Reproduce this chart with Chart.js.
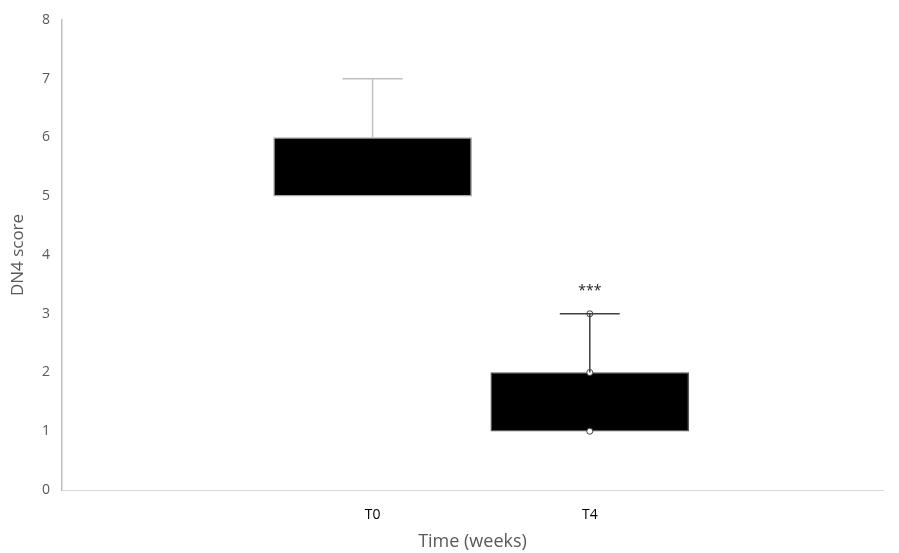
<!DOCTYPE html>
<html>
<head>
<meta charset="utf-8">
<script src="https://cdn.jsdelivr.net/npm/chart.js@4"></script>
<style>
  html, body { margin: 0; padding: 0; background: #fff; }
  #wrap { width: 899px; height: 553px; }
</style>
</head>
<body>
<div id="wrap"><canvas id="dn4Chart" width="899" height="553"></canvas></div>
<script>
// box plot values
const categories = ['T0', 'T4'];
const q1Values = [5, 1];
const q3Values = [6, 2];
const minValues = [5, 1];
const maxValues = [7, 3];
const t4Points = [1, 2, 3];
const yTicks = [0, 1, 2, 3, 4, 5, 6, 7, 8];
const signifLabel = '***';

const xPos = categories.map((c, i) => i + 1);
const whiskerColors = ['#bfbfbf', '#404040'];
const boxBorders = ['#a6a6a6', '#595959'];

// whiskers + caps + significance stars
const whiskerPlugin = {
    id: 'whiskers',
    afterDatasetsDraw(chart) {
        const ctx = chart.ctx;
        const xs = chart.scales.x;
        const ys = chart.scales.y;
        ctx.save();
        for (let i = 0; i < categories.length; i++) {
            const px = xs.getPixelForValue(xPos[i]);
            ctx.strokeStyle = whiskerColors[i];
            ctx.lineWidth = 1.5;
            if (maxValues[i] > q3Values[i]) {
                const top = ys.getPixelForValue(maxValues[i]);
                ctx.beginPath();
                ctx.moveTo(px, ys.getPixelForValue(q3Values[i]));
                ctx.lineTo(px, top);
                ctx.moveTo(px - 30, top);
                ctx.lineTo(px + 30, top);
                ctx.stroke();
            }
            if (minValues[i] < q1Values[i]) {
                const bot = ys.getPixelForValue(minValues[i]);
                ctx.beginPath();
                ctx.moveTo(px, ys.getPixelForValue(q1Values[i]));
                ctx.lineTo(px, bot);
                ctx.moveTo(px - 30, bot);
                ctx.lineTo(px + 30, bot);
                ctx.stroke();
            }
        }
        // stars above T4
        const sx = xs.getPixelForValue(xPos[1]);
        const sy = ys.getPixelForValue(maxValues[1]) - 23;
        ctx.fillStyle = '#222';
        ctx.font = '14px "Open Sans"';
        ctx.textAlign = 'center';
        ctx.textBaseline = 'middle';
        ctx.fillText(signifLabel, sx, sy);
        ctx.restore();
    }
};

const ctx = document.getElementById('dn4Chart').getContext('2d');

new Chart(ctx, {
    type: 'bar',
    data: {
        datasets: [{
            type: 'bar',
            data: categories.map((c, i) => ({ x: xPos[i], y: [q1Values[i], q3Values[i]] })),
            backgroundColor: '#000000',
            borderColor: boxBorders,
            borderWidth: 1.5,
            borderSkipped: false,
            barThickness: 198,
            order: 2
        }, {
            type: 'scatter',
            data: t4Points.map(v => ({ x: xPos[1], y: v })),
            backgroundColor: '#ffffff',
            borderColor: '#404040',
            borderWidth: 1,
            pointRadius: 3,
            order: 0
        }]
    },
    options: {
        responsive: false,
        animation: false,
        layout: {
            padding: { top: 20, right: 16, left: 8, bottom: 0 }
        },
        plugins: {
            legend: { display: false },
            tooltip: { enabled: false }
        },
        scales: {
            x: {
                type: 'linear',
                offset: false,
                min: -0.43,
                max: 3.35,
                grid: { display: false },
                border: { display: true, color: '#d9d9d9', width: 1 },
                afterBuildTicks: (scale) => {
                    scale.ticks = xPos.map(v => ({ value: v }));
                },
                afterFit: (scale) => { scale.height = 63; },
                ticks: {
                    callback: (v) => categories[v - 1] || '',
                    color: '#000000',
                    font: { family: 'Open Sans', size: 14 },
                    padding: 9,
                    maxRotation: 0
                },
                title: {
                    display: true,
                    text: 'Time (weeks)',
                    color: '#595959',
                    font: { family: 'Open Sans', size: 18 },
                    padding: { top: 6, bottom: 0 }
                }
            },
            y: {
                min: 0,
                max: 8,
                grid: { display: false },
                border: { display: true, color: '#bfbfbf', width: 1.5 },
                afterBuildTicks: (scale) => {
                    scale.ticks = yTicks.map(v => ({ value: v }));
                },
                afterFit: (scale) => { scale.width = 54; },
                ticks: {
                    color: '#595959',
                    font: { family: 'Open Sans', size: 14 },
                    padding: 4
                },
                title: {
                    display: true,
                    text: 'DN4 score',
                    color: '#595959',
                    font: { family: 'Open Sans', size: 17 },
                    padding: { top: 0, bottom: 4 }
                }
            }
        }
    },
    plugins: [whiskerPlugin]
});
</script>
</body>
</html>
